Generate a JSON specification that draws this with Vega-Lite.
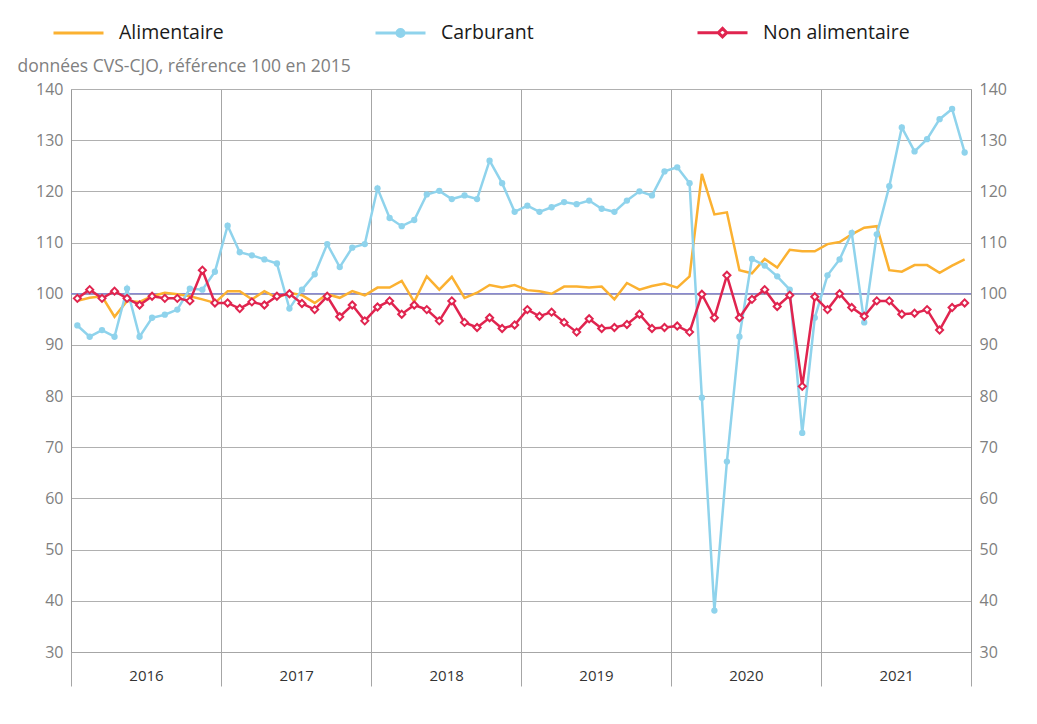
{
  "$schema": "https://vega.github.io/schema/vega-lite/v6.json",
  "width": 900,
  "height": 563,
  "autosize": {"type": "none"},
  "padding": {"left": 71, "top": 89, "right": 66, "bottom": 72},
  "background": "white",
  "config": {"font": "Open Sans", "view": {"stroke": null}},
  "data": {"values": [
    {"mois": "2016-01", "Alimentaire": 98.6, "Carburant": 93.8, "Non alimentaire": 99.1},
    {"mois": "2016-02", "Alimentaire": 99.2, "Carburant": 91.6, "Non alimentaire": 100.8},
    {"mois": "2016-03", "Alimentaire": 99.5, "Carburant": 92.9, "Non alimentaire": 99.1},
    {"mois": "2016-04", "Alimentaire": 95.5, "Carburant": 91.6, "Non alimentaire": 100.5},
    {"mois": "2016-05", "Alimentaire": 98.6, "Carburant": 101.0, "Non alimentaire": 99.1},
    {"mois": "2016-06", "Alimentaire": 98.4, "Carburant": 91.6, "Non alimentaire": 97.8},
    {"mois": "2016-07", "Alimentaire": 99.5, "Carburant": 95.3, "Non alimentaire": 99.5},
    {"mois": "2016-08", "Alimentaire": 100.2, "Carburant": 95.9, "Non alimentaire": 99.1},
    {"mois": "2016-09", "Alimentaire": 99.9, "Carburant": 96.9, "Non alimentaire": 99.1},
    {"mois": "2016-10", "Alimentaire": 99.5, "Carburant": 101.0, "Non alimentaire": 98.6},
    {"mois": "2016-11", "Alimentaire": 98.9, "Carburant": 100.8, "Non alimentaire": 104.6},
    {"mois": "2016-12", "Alimentaire": 98.2, "Carburant": 104.3, "Non alimentaire": 98.2},
    {"mois": "2017-01", "Alimentaire": 100.5, "Carburant": 113.3, "Non alimentaire": 98.2},
    {"mois": "2017-02", "Alimentaire": 100.5, "Carburant": 108.1, "Non alimentaire": 97.1},
    {"mois": "2017-03", "Alimentaire": 98.9, "Carburant": 107.5, "Non alimentaire": 98.4},
    {"mois": "2017-04", "Alimentaire": 100.5, "Carburant": 106.7, "Non alimentaire": 97.8},
    {"mois": "2017-05", "Alimentaire": 99.2, "Carburant": 105.9, "Non alimentaire": 99.5},
    {"mois": "2017-06", "Alimentaire": 100.2, "Carburant": 97.1, "Non alimentaire": 100.0},
    {"mois": "2017-07", "Alimentaire": 99.7, "Carburant": 100.8, "Non alimentaire": 98.1},
    {"mois": "2017-08", "Alimentaire": 98.2, "Carburant": 103.8, "Non alimentaire": 96.9},
    {"mois": "2017-09", "Alimentaire": 99.9, "Carburant": 109.7, "Non alimentaire": 99.5},
    {"mois": "2017-10", "Alimentaire": 99.2, "Carburant": 105.2, "Non alimentaire": 95.5},
    {"mois": "2017-11", "Alimentaire": 100.5, "Carburant": 109.0, "Non alimentaire": 97.8},
    {"mois": "2017-12", "Alimentaire": 99.7, "Carburant": 109.7, "Non alimentaire": 94.7},
    {"mois": "2018-01", "Alimentaire": 101.2, "Carburant": 120.6, "Non alimentaire": 97.4},
    {"mois": "2018-02", "Alimentaire": 101.2, "Carburant": 114.8, "Non alimentaire": 98.6},
    {"mois": "2018-03", "Alimentaire": 102.5, "Carburant": 113.2, "Non alimentaire": 96.0},
    {"mois": "2018-04", "Alimentaire": 98.4, "Carburant": 114.4, "Non alimentaire": 97.8},
    {"mois": "2018-05", "Alimentaire": 103.4, "Carburant": 119.4, "Non alimentaire": 96.9},
    {"mois": "2018-06", "Alimentaire": 100.8, "Carburant": 120.1, "Non alimentaire": 94.7},
    {"mois": "2018-07", "Alimentaire": 103.3, "Carburant": 118.5, "Non alimentaire": 98.6},
    {"mois": "2018-08", "Alimentaire": 99.2, "Carburant": 119.2, "Non alimentaire": 94.4},
    {"mois": "2018-09", "Alimentaire": 100.2, "Carburant": 118.5, "Non alimentaire": 93.4},
    {"mois": "2018-10", "Alimentaire": 101.7, "Carburant": 126.0, "Non alimentaire": 95.3},
    {"mois": "2018-11", "Alimentaire": 101.2, "Carburant": 121.6, "Non alimentaire": 93.2},
    {"mois": "2018-12", "Alimentaire": 101.7, "Carburant": 116.0, "Non alimentaire": 93.9},
    {"mois": "2019-01", "Alimentaire": 100.7, "Carburant": 117.2, "Non alimentaire": 96.9},
    {"mois": "2019-02", "Alimentaire": 100.5, "Carburant": 116.0, "Non alimentaire": 95.6},
    {"mois": "2019-03", "Alimentaire": 100.0, "Carburant": 116.9, "Non alimentaire": 96.4},
    {"mois": "2019-04", "Alimentaire": 101.4, "Carburant": 117.9, "Non alimentaire": 94.4},
    {"mois": "2019-05", "Alimentaire": 101.4, "Carburant": 117.5, "Non alimentaire": 92.5},
    {"mois": "2019-06", "Alimentaire": 101.2, "Carburant": 118.2, "Non alimentaire": 95.1},
    {"mois": "2019-07", "Alimentaire": 101.4, "Carburant": 116.6, "Non alimentaire": 93.2},
    {"mois": "2019-08", "Alimentaire": 98.9, "Carburant": 116.0, "Non alimentaire": 93.4},
    {"mois": "2019-09", "Alimentaire": 102.1, "Carburant": 118.2, "Non alimentaire": 94.0},
    {"mois": "2019-10", "Alimentaire": 100.8, "Carburant": 120.0, "Non alimentaire": 96.0},
    {"mois": "2019-11", "Alimentaire": 101.5, "Carburant": 119.2, "Non alimentaire": 93.2},
    {"mois": "2019-12", "Alimentaire": 102.0, "Carburant": 123.9, "Non alimentaire": 93.4},
    {"mois": "2020-01", "Alimentaire": 101.2, "Carburant": 124.7, "Non alimentaire": 93.7},
    {"mois": "2020-02", "Alimentaire": 103.4, "Carburant": 121.6, "Non alimentaire": 92.5},
    {"mois": "2020-03", "Alimentaire": 123.4, "Carburant": 79.7, "Non alimentaire": 99.9},
    {"mois": "2020-04", "Alimentaire": 115.5, "Carburant": 38.1, "Non alimentaire": 95.3},
    {"mois": "2020-05", "Alimentaire": 115.9, "Carburant": 67.2, "Non alimentaire": 103.6},
    {"mois": "2020-06", "Alimentaire": 104.6, "Carburant": 91.6, "Non alimentaire": 95.3},
    {"mois": "2020-07", "Alimentaire": 104.0, "Carburant": 106.8, "Non alimentaire": 98.9},
    {"mois": "2020-08", "Alimentaire": 106.8, "Carburant": 105.5, "Non alimentaire": 100.8},
    {"mois": "2020-09", "Alimentaire": 105.1, "Carburant": 103.4, "Non alimentaire": 97.5},
    {"mois": "2020-10", "Alimentaire": 108.6, "Carburant": 100.8, "Non alimentaire": 99.7},
    {"mois": "2020-11", "Alimentaire": 108.3, "Carburant": 72.8, "Non alimentaire": 81.9},
    {"mois": "2020-12", "Alimentaire": 108.3, "Carburant": 95.3, "Non alimentaire": 99.4},
    {"mois": "2021-01", "Alimentaire": 109.7, "Carburant": 103.6, "Non alimentaire": 96.9},
    {"mois": "2021-02", "Alimentaire": 110.1, "Carburant": 106.7, "Non alimentaire": 100.0},
    {"mois": "2021-03", "Alimentaire": 111.6, "Carburant": 111.9, "Non alimentaire": 97.3},
    {"mois": "2021-04", "Alimentaire": 112.9, "Carburant": 94.4, "Non alimentaire": 95.6},
    {"mois": "2021-05", "Alimentaire": 113.2, "Carburant": 111.6, "Non alimentaire": 98.6},
    {"mois": "2021-06", "Alimentaire": 104.6, "Carburant": 121.0, "Non alimentaire": 98.6},
    {"mois": "2021-07", "Alimentaire": 104.3, "Carburant": 132.5, "Non alimentaire": 96.0},
    {"mois": "2021-08", "Alimentaire": 105.6, "Carburant": 127.8, "Non alimentaire": 96.2},
    {"mois": "2021-09", "Alimentaire": 105.6, "Carburant": 130.2, "Non alimentaire": 96.9},
    {"mois": "2021-10", "Alimentaire": 104.1, "Carburant": 134.1, "Non alimentaire": 92.9},
    {"mois": "2021-11", "Alimentaire": 105.5, "Carburant": 136.1, "Non alimentaire": 97.3},
    {"mois": "2021-12", "Alimentaire": 106.7, "Carburant": 127.6, "Non alimentaire": 98.2}
  ]},
  "transform": [{"fold": ["Alimentaire", "Carburant", "Non alimentaire"], "as": ["serie", "valeur"]}],
  "resolve": {"scale": {"y": "independent"}},
  "layer": [
    {
      "data": {"values": [{"ref": 100}]},
      "mark": {"type": "rule", "color": "#8a8ad0", "strokeWidth": 1.5},
      "encoding": {
        "y": {"field": "ref", "type": "quantitative",
          "scale": {"domain": [30, 140], "nice": false, "zero": false},
          "axis": {"orient": "right", "title": null, "values": [30, 40, 50, 60, 70, 80, 90, 100, 110, 120, 130, 140],
            "grid": false, "tickSize": 0, "labelPadding": 8, "labelFontSize": 16, "labelColor": "#808080",
            "domainColor": "#999999", "domainWidth": 1}
        }
      }
    },
    {
      "encoding": {
        "x": {"field": "mois", "type": "temporal", "timeUnit": "utcyearmonth", "bandPosition": 0.5,
          "scale": {"domain": [{"year": 2016, "month": 1, "date": 1, "utc": true}, {"year": 2022, "month": 1, "date": 1, "utc": true}], "nice": false},
          "axis": {"title": null,
            "values": [{"year": 2016, "month": 1, "date": 1, "utc": true}, {"year": 2017, "month": 1, "date": 1, "utc": true}, {"year": 2018, "month": 1, "date": 1, "utc": true}, {"year": 2019, "month": 1, "date": 1, "utc": true}, {"year": 2020, "month": 1, "date": 1, "utc": true}, {"year": 2021, "month": 1, "date": 1, "utc": true}, {"year": 2022, "month": 1, "date": 1, "utc": true}],
            "labelExpr": "utcyear(datum.value) > 2021 ? '' : utcFormat(datum.value, '%Y')",
            "labelOffset": 75, "labelPadding": -18, "labelFontSize": 15, "labelColor": "#333333",
            "labelFlush": false, "labelOverlap": false, "labelBound": false,
            "tickSize": 34, "tickColor": "#a6a6a6", "grid": true, "gridColor": "#a6a6a6",
            "domainColor": "#a6a6a6"}
        },
        "y": {"field": "valeur", "type": "quantitative",
          "scale": {"domain": [30, 140], "nice": false, "zero": false},
          "axis": {"orient": "left", "title": "données CVS-CJO, référence 100 en 2015",
            "titleAngle": 0, "titleAlign": "left", "titleBaseline": "alphabetic", "titleX": -54, "titleY": -18,
            "titleFontSize": 17.5, "titleFontWeight": "normal", "titleColor": "#808080",
            "values": [30, 40, 50, 60, 70, 80, 90, 100, 110, 120, 130, 140],
            "grid": true, "gridColor": "#b0b0b0", "tickSize": 0, "labelPadding": 8,
            "labelFontSize": 16, "labelColor": "#808080", "domainColor": "#999999"}
        }
      },
      "layer": [
        {
          "transform": [{"filter": "datum.serie === 'Alimentaire'"}],
          "mark": {"type": "line", "strokeWidth": 2.5},
          "encoding": {
            "color": {"field": "serie", "type": "nominal",
              "scale": {"domain": ["Alimentaire", "Carburant", "Non alimentaire"], "range": ["#fbb131", "#8fd3ec", "#e0244f"]},
              "legend": {"orient": "none", "legendX": -19, "legendY": -83, "direction": "horizontal",
                "title": null, "padding": 0, "gridAlign": "all", "columnPadding": 103,
                "symbolSize": 2500, "symbolStrokeWidth": 3, "labelOffset": 14,
                "labelFontSize": 19.5, "labelColor": "#1a1a1a", "labelLimit": 300,
                "encode": {"symbols": {"update": {
                  "shape": {"signal": "datum.value === 'Carburant' ? 'M-1,0H1M0.14,0A0.14,0.14,0,1,1,-0.14,0A0.14,0.14,0,1,1,0.14,0Z' : datum.value === 'Non alimentaire' ? 'M-1,0H-0.17M0.17,0H1M0,-0.17L0.17,0L0,0.17L-0.17,0Z' : 'M-1,0H1'"},
                  "fill": {"signal": "datum.value === 'Carburant' ? '#8fd3ec' : datum.value === 'Non alimentaire' ? '#ffffff' : 'transparent'"},
                  "stroke": {"signal": "datum.value === 'Carburant' ? '#8fd3ec' : datum.value === 'Non alimentaire' ? '#e0244f' : '#fbb131'"},
                  "strokeWidth": {"value": 3},
                  "opacity": {"value": 1}
                }}}
              }
            }
          }
        },
        {
          "transform": [{"filter": "datum.serie === 'Carburant'"}],
          "mark": {"type": "line", "strokeWidth": 2.5},
          "encoding": {"color": {"field": "serie", "type": "nominal"}}
        },
        {
          "transform": [{"filter": "datum.serie === 'Carburant'"}],
          "mark": {"type": "point", "filled": true, "shape": "circle", "size": 40, "color": "#8fd3ec", "opacity": 1}
        },
        {
          "transform": [{"filter": "datum.serie === 'Non alimentaire'"}],
          "mark": {"type": "line", "strokeWidth": 2.5},
          "encoding": {"color": {"field": "serie", "type": "nominal"}}
        },
        {
          "transform": [{"filter": "datum.serie === 'Non alimentaire'"}],
          "mark": {"type": "point", "shape": "diamond", "size": 50, "filled": true, "fill": "#ffffff", "stroke": "#e0244f", "strokeWidth": 2, "opacity": 1}
        }
      ]
    }
  ]
}
